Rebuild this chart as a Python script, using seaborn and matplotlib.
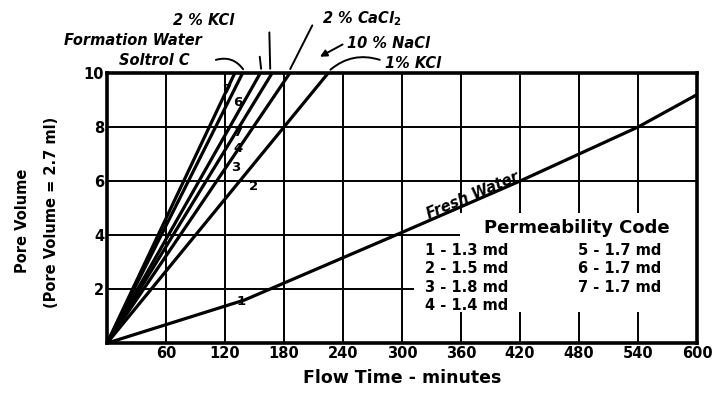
import matplotlib
matplotlib.use('Agg')
import matplotlib.pyplot as plt
from matplotlib.patches import Rectangle
import seaborn as sns
import pandas as pd

# Dados
fresh_time = [0, 140, 300, 420, 540, 600]
fresh_pv = [0, 1.6, 4.1, 6.0, 8.0, 9.2]

steep_codes = ['7', '6', '5', '4', '3', '2']
steep_time_at_10 = [130, 138, 156, 168, 186, 225]

line_labels = ['7', '6', '7', '4', '3', '2', '1']
line_label_t = [122, 133, 133, 133, 131, 149, 136]
line_label_pv = [9.4, 8.9, 7.8, 7.2, 6.5, 5.8, 1.55]

x_ticks = [60, 120, 180, 240, 300, 360, 420, 480, 540, 600]
y_ticks = [2, 4, 6, 8, 10]

perm_col1 = ['1 - 1.3 md', '2 - 1.5 md', '3 - 1.8 md', '4 - 1.4 md']
perm_col2 = ['5 - 1.7 md', '6 - 1.7 md', '7 - 1.7 md']

fluids = ['2 % KCl', 'Formation Water', 'Soltrol C', '2 % CaCl$_2$', '10 % NaCl', '1% KCl']

rows = []
for t, pv in zip(fresh_time, fresh_pv):
    rows.append({'serie': '1', 't': t, 'pv': pv})
for c, t10 in zip(steep_codes, steep_time_at_10):
    rows.append({'serie': c, 't': 0, 'pv': 0})
    rows.append({'serie': c, 't': t10, 'pv': 10})
df = pd.DataFrame(rows)

sns.set_style('white')
plt.rcParams['font.family'] = ['DejaVu Sans']
plt.rcParams['font.weight'] = 'bold'
plt.rcParams['text.color'] = 'black'
plt.rcParams['axes.labelcolor'] = 'black'
plt.rcParams['xtick.color'] = 'black'
plt.rcParams['ytick.color'] = 'black'

fig = plt.figure(figsize=(7.18, 3.94), dpi=100)
ax = fig.add_axes([0.149, 0.129, 0.822, 0.686])

sns.lineplot(data=df, x='t', y='pv', units='serie', estimator=None, sort=False,
             color='black', linewidth=2.3, ax=ax, zorder=3)

ax.set_xlim(0, 600)
ax.set_ylim(0, 10)
ax.set_xticks(x_ticks)
ax.set_yticks(y_ticks)
ax.set_xticklabels([str(v) for v in x_ticks], fontsize=10.5, fontweight='bold')
ax.set_yticklabels([str(v) for v in y_ticks], fontsize=10.5, fontweight='bold')
ax.tick_params(length=0, pad=2)
ax.set_axisbelow(True)
ax.grid(True, color='black', linewidth=1.4)
for s in ax.spines.values():
    s.set_visible(True)
    s.set_color('black')
    s.set_linewidth(2.6)
    s.set_zorder(5)

ax.set_xlabel('Flow Time - minutes', fontsize=12.5, fontweight='bold', labelpad=6)
ax.set_ylabel('')
fig.text(0.031, 0.44, 'Pore Volume', rotation=90, ha='center', va='center',
         fontsize=10.5, fontweight='bold')
fig.text(0.072, 0.46, '(Pore Volume = 2.7 ml)', rotation=90, ha='center', va='center',
         fontsize=10.5, fontweight='bold')

# Rotulos das curvas
for lab, t, pv in zip(line_labels, line_label_t, line_label_pv):
    ax.text(t, pv, lab, fontsize=9.5, fontweight='bold', ha='center', va='center', zorder=4)

ax.text(372, 5.45, 'Fresh Water', rotation=23, fontsize=10.5, fontweight='bold',
        fontstyle='italic', ha='center', va='center', zorder=4)

# Caixa do codigo de permeabilidade
ax.add_patch(Rectangle((312, 1.15), 288, 2.65, facecolor='white', edgecolor='none', zorder=1))
ax.add_patch(Rectangle((359, 3.8), 241, 1.0, facecolor='white', edgecolor='none', zorder=1))
ax.text(478, 4.26, 'Permeability Code', fontsize=13, fontweight='bold',
        ha='center', va='center', zorder=4)
row_pv = [3.44, 2.78, 2.07, 1.41]
for i, txt in enumerate(perm_col1):
    ax.text(323, row_pv[i], txt, fontsize=10.5, fontweight='bold', ha='left', va='center', zorder=4)
for i, txt in enumerate(perm_col2):
    ax.text(479, row_pv[i], txt, fontsize=10.5, fontweight='bold', ha='left', va='center', zorder=4)

# Nomes dos fluidos acima do grafico
fluid_pos = [(98, 11.95), (26, 11.2), (48, 10.45), (219, 12.0), (244, 11.1), (283, 10.35)]
fluid_ha = ['center', 'center', 'center', 'left', 'left', 'left']
for name, (t, pv), ha in zip(fluids, fluid_pos, fluid_ha):
    ax.text(t, pv, name, fontsize=10.5, fontweight='bold', fontstyle='italic',
            ha=ha, va='center', clip_on=False)

# Linhas de chamada
leaders = [((157, 10.05), (155, 10.7), 'arc3'),
           ((166, 10.05), (165, 11.6), 'arc3'),
           ((140, 10.05), (108, 10.45), 'arc3,rad=-0.4'),
           ((185, 10.05), (210, 11.85), 'arc3'),
           ((225, 10.05), (280, 10.45), 'arc3,rad=0.3')]
for xy, xytext, cs in leaders:
    ax.annotate('', xy=xy, xytext=xytext, annotation_clip=False,
                arrowprops=dict(arrowstyle='-', color='black', lw=1.4, connectionstyle=cs))
ax.annotate('', xy=(214, 10.55), xytext=(242, 11.1), annotation_clip=False,
            arrowprops=dict(arrowstyle='-|>', color='black', lw=1.4, mutation_scale=10))

fig.savefig('out.png', dpi=100, facecolor='white')
